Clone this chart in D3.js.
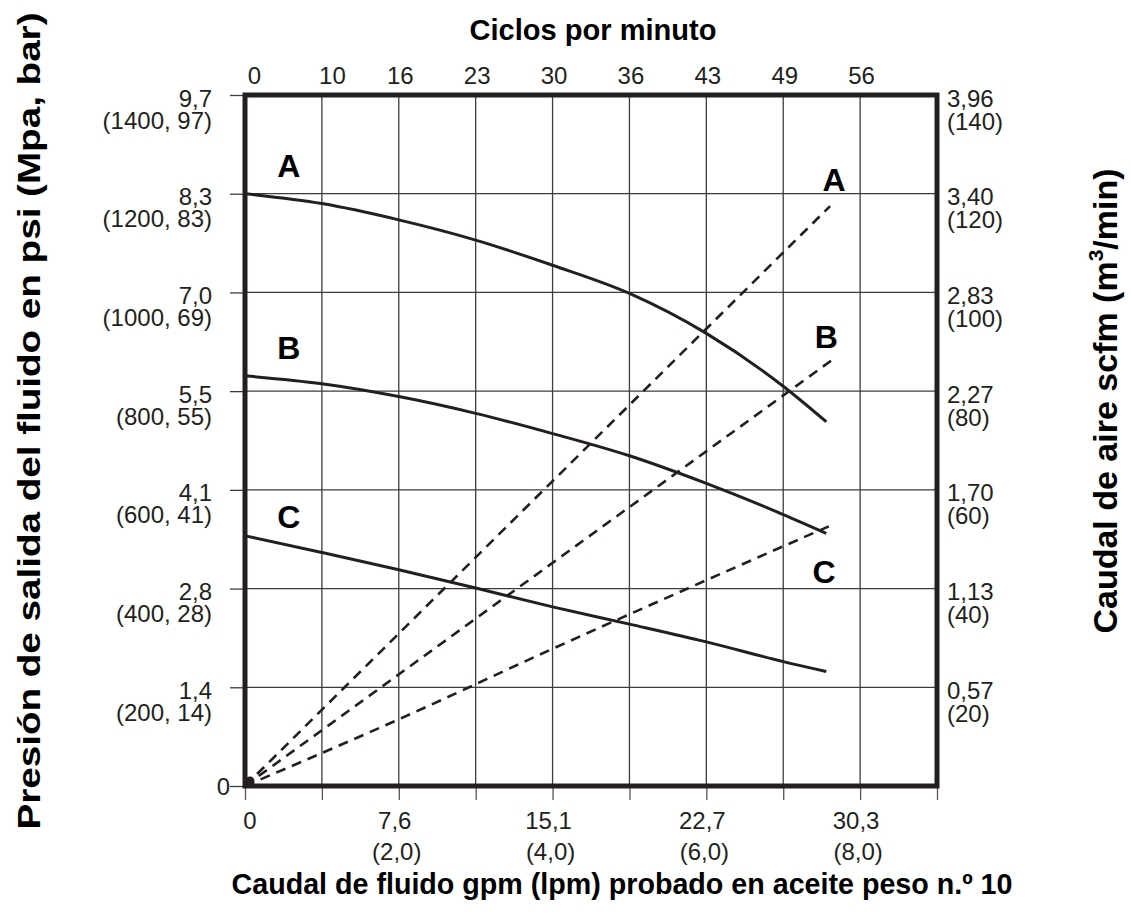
<!DOCTYPE html>
<html>
<head>
<meta charset="utf-8">
<script src="https://cdn.jsdelivr.net/npm/d3@7"></script>
<style>
  html, body { margin: 0; padding: 0; background: #fff; }
  svg { display: block; font-family: "Liberation Sans", Arial, Helvetica, sans-serif; }
</style>
</head>
<body>
<svg id="chart" width="1131" height="920"></svg>
<script>
// ---- Data ----------------------------------------------------------------
// Fluid flow in gpm (x), read at each grid column plus the end of each curve
const flowGpm = [0, 1, 2, 3, 4, 5, 6, 7, 7.56];

// Fluid outlet pressure (psi) for air inlet pressures A, B, C
const pressureA = [1200, 1180, 1147, 1106, 1055, 998, 917, 810, 738];
const pressureB = [831, 815, 789, 755, 714, 669, 613, 550, 512];
const pressureC = [507, 473, 438, 401, 363, 328, 292, 252, 232];

// Air consumption (scfm) against fluid flow (gpm)
const airFlowA = [0, 7.61];
const airA = [0, 117.5];
const airFlowB = [0, 7.67];
const airB = [0, 86.7];
const airFlowC = [0, 2, 4, 6, 7.65];
const airC = [0, 13.5, 27.8, 41.7, 53];

// Left axis: psi ticks with MPa and (psi, bar) labels
const psiTicks = [0, 200, 400, 600, 800, 1000, 1200, 1400];
const mpaLabels = ["0", "1,4", "2,8", "4,1", "5,5", "7,0", "8,3", "9,7"];
const psiBarLabels = ["", "(200, 14)", "(400, 28)", "(600, 41)", "(800, 55)", "(1000, 69)", "(1200, 83)", "(1400, 97)"];

// Right axis: scfm ticks with m3/min and (scfm) labels
const scfmTicks = [20, 40, 60, 80, 100, 120, 140];
const m3Labels = ["0,57", "1,13", "1,70", "2,27", "2,83", "3,40", "3,96"];
const scfmLabels = ["(20)", "(40)", "(60)", "(80)", "(100)", "(120)", "(140)"];

// Bottom axis: gpm ticks with lpm and (gpm) labels
const gpmGridTicks = [0, 1, 2, 3, 4, 5, 6, 7, 8, 9];
const gpmLabelTicks = [0, 2, 4, 6, 8];
const lpmLabels = ["0", "7,6", "15,1", "22,7", "30,3"];
const gpmLabels = ["", "(2,0)", "(4,0)", "(6,0)", "(8,0)"];

// Top axis: cycles per minute at each gpm grid column
const cycleTicks = [0, 1, 2, 3, 4, 5, 6, 7, 8];
const cycleLabels = ["0", "10", "16", "23", "30", "36", "43", "49", "56"];

const curveNames = ["A", "B", "C"];

// ---- Layout --------------------------------------------------------------
const svg = d3.select("#chart");
const W = 1131, H = 920;
const plot = { left: 245, top: 95, right: 937, bottom: 786 };

svg.append("rect").attr("width", W).attr("height", H).attr("fill", "#fff");

const x = d3.scaleLinear().domain([0, 9]).range([plot.left, plot.right]);
const yPsi = d3.scaleLinear().domain([0, 1400]).range([plot.bottom, plot.top]);
const yAir = d3.scaleLinear().domain([0, 140]).range([plot.bottom, plot.top]);

const ink = "#231f20";
const gridInk = "#3c3c3c";
const tickFont = 24;

// ---- Grid ----------------------------------------------------------------
const grid = svg.append("g");
grid.selectAll("line.v").data(gpmGridTicks.slice(1, -1)).join("line")
  .attr("x1", d => x(d)).attr("x2", d => x(d))
  .attr("y1", plot.top).attr("y2", plot.bottom)
  .attr("stroke", gridInk).attr("stroke-width", 1.3);
grid.selectAll("line.h").data(psiTicks.slice(1, -1)).join("line")
  .attr("x1", plot.left).attr("x2", plot.right)
  .attr("y1", d => yPsi(d)).attr("y2", d => yPsi(d))
  .attr("stroke", gridInk).attr("stroke-width", 1.3);

// ---- Axes ----------------------------------------------------------------
// Left (pressure)
const leftAxis = svg.append("g")
  .attr("transform", `translate(${plot.left},0)`)
  .call(d3.axisLeft(yPsi).tickValues(psiTicks).tickSize(15).tickFormat(""));
leftAxis.select(".domain").remove();
leftAxis.selectAll(".tick line").attr("stroke", gridInk).attr("stroke-width", 1.3);
leftAxis.selectAll(".tick").each(function (d, i) {
  const t = d3.select(this).append("text")
    .attr("fill", ink).attr("font-size", tickFont).attr("text-anchor", "end");
  if (i === 0) {
    t.attr("x", -15).attr("dy", "0.36em").text(mpaLabels[i]);
  } else {
    t.append("tspan").attr("x", -33).attr("y", 11).text(mpaLabels[i]);
    t.append("tspan").attr("x", -33).attr("y", 33).text(psiBarLabels[i]);
  }
});

// Right (air consumption)
const rightAxis = svg.append("g")
  .attr("transform", `translate(${plot.right},0)`)
  .call(d3.axisRight(yAir).tickValues(scfmTicks).tickSize(0).tickFormat(""));
rightAxis.select(".domain").remove();
rightAxis.selectAll(".tick").each(function (d, i) {
  const t = d3.select(this).append("text")
    .attr("fill", ink).attr("font-size", tickFont).attr("text-anchor", "start");
  t.append("tspan").attr("x", 10).attr("y", 11).text(m3Labels[i]);
  t.append("tspan").attr("x", 10).attr("y", 34).text(scfmLabels[i]);
});

// Bottom (fluid flow)
const bottomAxis = svg.append("g")
  .attr("transform", `translate(0,${plot.bottom})`)
  .call(d3.axisBottom(x).tickValues(gpmGridTicks).tickSize(14).tickFormat(""));
bottomAxis.select(".domain").remove();
bottomAxis.selectAll(".tick line").attr("stroke", "#555").attr("stroke-width", 1.3);
const bottomLabels = svg.append("g").attr("fill", ink).attr("font-size", tickFont)
  .attr("text-anchor", "middle");
gpmLabelTicks.forEach((v, i) => {
  const t = bottomLabels.append("text");
  t.append("tspan").attr("x", x(v) + (i === 0 ? 5 : -4)).attr("y", plot.bottom + 43).text(lpmLabels[i]);
  t.append("tspan").attr("x", x(v) - 2).attr("y", plot.bottom + 74).text(gpmLabels[i]);
});

// Top (pump cycles)
const topAxis = svg.append("g")
  .attr("transform", `translate(0,${plot.top})`)
  .call(d3.axisTop(x).tickValues(cycleTicks).tickSize(0)
    .tickFormat((d, i) => cycleLabels[i]));
topAxis.select(".domain").remove();
topAxis.selectAll(".tick text")
  .attr("fill", ink).attr("font-size", tickFont).attr("y", -11)
  .attr("dx", (d, i) => (i === 0 ? 9 : i === 1 ? 10 : 1))
  .attr("font-family", "inherit");

// ---- Curves --------------------------------------------------------------
svg.append("clipPath").attr("id", "plotClip").append("rect")
  .attr("x", plot.left).attr("y", plot.top)
  .attr("width", plot.right - plot.left).attr("height", plot.bottom - plot.top);
const marks = svg.append("g").attr("clip-path", "url(#plotClip)");

const pressureLine = d3.line()
  .x(d => x(d[0])).y(d => yPsi(d[1])).curve(d3.curveMonotoneX);
const airLine = d3.line()
  .x(d => x(d[0])).y(d => yAir(d[1])).curve(d3.curveMonotoneX);

[pressureA, pressureB, pressureC].forEach(series => {
  marks.append("path")
    .datum(flowGpm.map((g, i) => [g, series[i]]))
    .attr("d", pressureLine)
    .attr("fill", "none").attr("stroke", ink).attr("stroke-width", 3);
});

[[airFlowA, airA], [airFlowB, airB], [airFlowC, airC]].forEach(([fx, fy]) => {
  marks.append("path")
    .datum(fx.map((g, i) => [g, fy[i]]))
    .attr("d", airLine)
    .attr("fill", "none").attr("stroke", ink).attr("stroke-width", 2.6)
    .attr("stroke-dasharray", "10,7");
});

// small marker at the common origin of the air lines
marks.append("circle")
  .attr("cx", x(0) + 5).attr("cy", yAir(0) - 5).attr("r", 4.5).attr("fill", ink);

// ---- Curve letters -------------------------------------------------------
const letters = svg.append("g").attr("fill", "#000").attr("font-size", 32)
  .attr("font-weight", "bold").attr("text-anchor", "middle");
// pressure-curve letters at the left, in (gpm, psi)
[[0.57, 1234], [0.57, 865], [0.57, 523]].forEach((p, i) => {
  letters.append("text").attr("x", x(p[0])).attr("y", yPsi(p[1])).text(curveNames[i]);
});
// air-line letters at the right, in (gpm, scfm)
[[7.66, 120.5], [7.56, 88.7], [7.53, 41.1]].forEach((p, i) => {
  letters.append("text").attr("x", x(p[0])).attr("y", yAir(p[1])).text(curveNames[i]);
});

// ---- Frame ---------------------------------------------------------------
svg.append("rect")
  .attr("x", plot.left).attr("y", plot.top)
  .attr("width", plot.right - plot.left).attr("height", plot.bottom - plot.top)
  .attr("fill", "none").attr("stroke", ink).attr("stroke-width", 5);

// ---- Titles --------------------------------------------------------------
const titles = svg.append("g").attr("fill", "#000").attr("font-weight", "bold")
  .attr("text-anchor", "middle");
titles.append("text").attr("x", 593).attr("y", 40).attr("font-size", 29)
  .attr("textLength", 247).attr("lengthAdjust", "spacingAndGlyphs")
  .text("Ciclos por minuto");
titles.append("text").attr("x", 622).attr("y", 894).attr("font-size", 29)
  .attr("textLength", 781).attr("lengthAdjust", "spacingAndGlyphs")
  .text("Caudal de fluido gpm (lpm) probado en aceite peso n.º 10");
titles.append("text")
  .attr("transform", "translate(40,421) rotate(-90)").attr("font-size", 31)
  .attr("textLength", 817).attr("lengthAdjust", "spacingAndGlyphs")
  .text("Presión de salida del fluido en psi (Mpa, bar)");
const rt = titles.append("text").attr("transform", "translate(1117,401) rotate(-90)")
  .attr("font-size", 34);
rt.append("tspan").text("Caudal de aire scfm (m");
rt.append("tspan").attr("font-size", 21).attr("dy", -14).text("3");
rt.append("tspan").attr("dy", 14).text("/min)");
</script>
</body>
</html>
